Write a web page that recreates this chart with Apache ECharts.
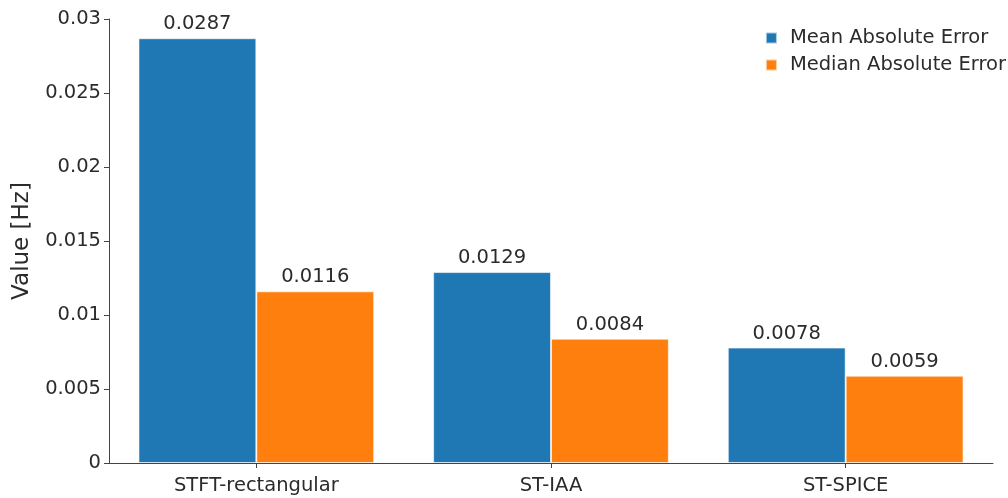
<!DOCTYPE html>
<html>
<head>
<meta charset="utf-8">
<script src="https://cdn.jsdelivr.net/npm/echarts@6/dist/echarts.min.js"></script>
<style>html,body{margin:0;padding:0;background:#fff}#c{width:1008px;height:498px}</style>
</head>
<body>
<div id="c"></div>
<script>
const categories = ["STFT-rectangular", "ST-IAA", "ST-SPICE"];
const meanAbsErr = [0.0287, 0.0129, 0.0078];
const medianAbsErr = [0.0116, 0.0084, 0.0059];
const seriesNames = ["Mean Absolute Error", "Median Absolute Error"];
const yTicks = [0, 0.005, 0.01, 0.015, 0.02, 0.025, 0.03];

const FONT = "DejaVu Sans";
const TXT = '#2b2b2b';
const FS = 19.5;
const chart = echarts.init(document.getElementById('c'));
const labelCfg = {
  show: true, position: 'top', distance: 4,
  color: TXT, fontFamily: FONT, fontSize: FS,
  formatter: p => String(p.value)
};
chart.setOption({
  animation: false,
  textStyle: { fontFamily: FONT },
  grid: { left: 109, right: 15, top: 19, bottom: 35 },
  legend: {
    right: -3, top: 23, orient: 'vertical',
    itemWidth: 11, itemHeight: 11, itemGap: 7,
    icon: 'rect',
    textStyle: { fontFamily: FONT, fontSize: FS, lineHeight: 20, color: TXT, padding: [0, 0, 0, 8] },
    data: seriesNames
  },
  xAxis: {
    type: 'category', data: categories,
    axisLine: { lineStyle: { color: '#444', width: 1 } },
    axisTick: { show: true, alignWithLabel: true, length: 5, lineStyle: { color: '#444' } },
    axisLabel: { color: TXT, fontFamily: FONT, fontSize: FS, margin: 13 }
  },
  yAxis: {
    type: 'value', min: 0, max: 0.03, interval: 0.005,
    name: 'Value [Hz]', nameLocation: 'middle', nameGap: 75,
    nameTextStyle: { fontFamily: FONT, fontSize: 23, color: TXT },
    splitLine: { show: false },
    axisLine: { show: true, lineStyle: { color: '#444', width: 1 } },
    axisTick: { show: true, length: 5, lineStyle: { color: '#444' } },
    axisLabel: {
      color: TXT, fontFamily: FONT, fontSize: FS, margin: 8,
      formatter: v => { const t = yTicks.find(x => Math.abs(x - v) < 1e-9); return t === undefined ? '' : String(t); }
    }
  },
  series: [
    {
      name: seriesNames[0], type: 'bar', data: meanAbsErr,
      barGap: '0%', barCategoryGap: '20%',
      itemStyle: { color: '#1f77b4', borderColor: 'rgba(255,255,255,0.6)', borderWidth: 1 },
      label: labelCfg
    },
    {
      name: seriesNames[1], type: 'bar', data: medianAbsErr,
      itemStyle: { color: '#ff7f0e', borderColor: 'rgba(255,255,255,0.6)', borderWidth: 1 },
      label: labelCfg
    }
  ]
});
</script>
</body>
</html>
